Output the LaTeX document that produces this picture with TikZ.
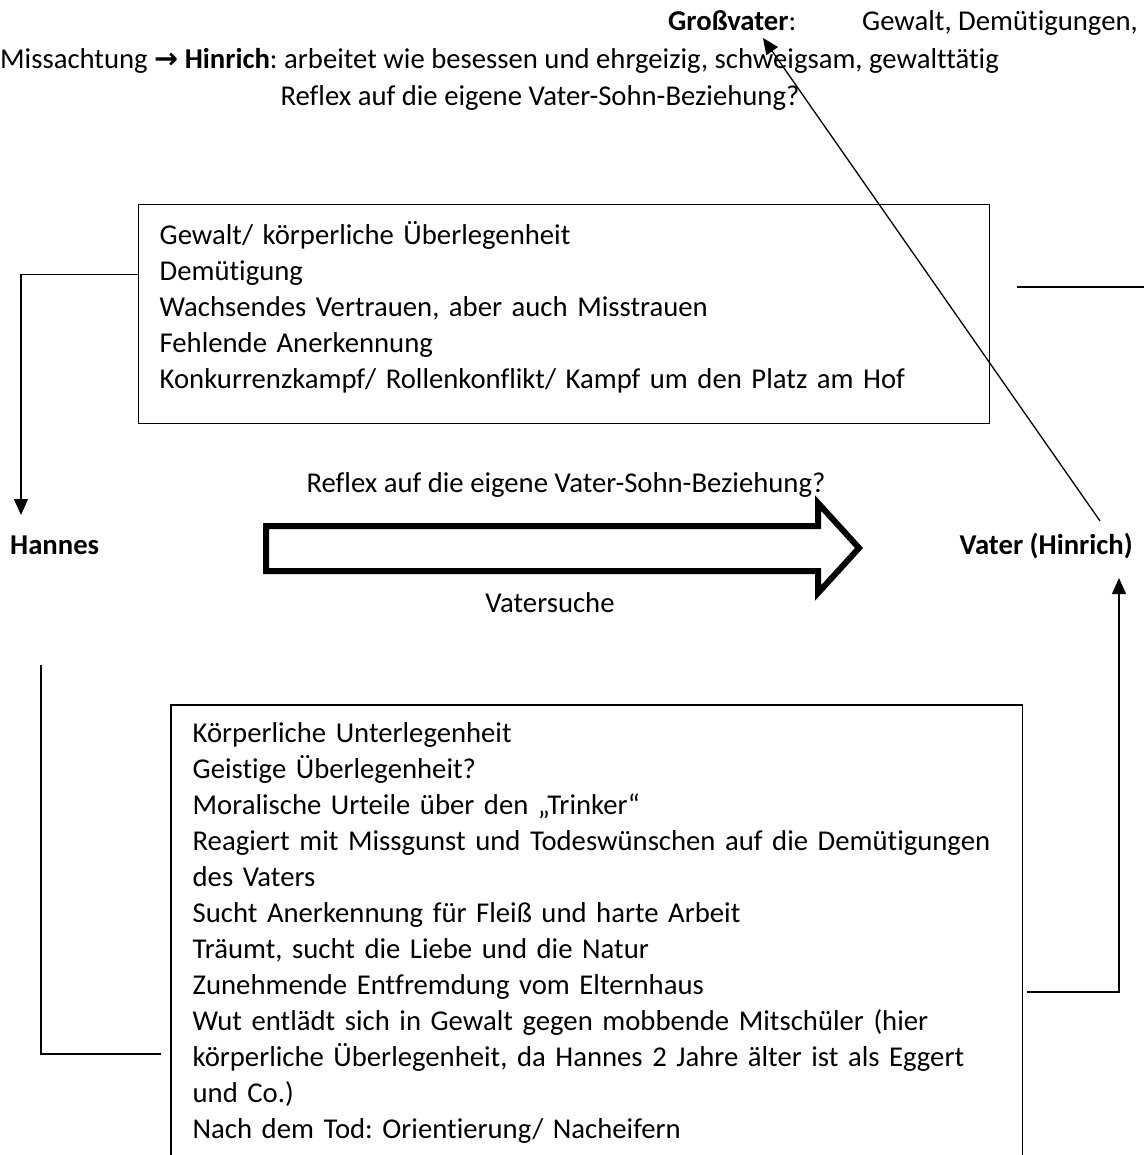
\documentclass[tikz,border=0pt]{standalone}
\usepackage{fontspec}
\setmainfont{Carlito}[Ligatures=NoCommon]
\newfontfamily\arrowfont{DejaVu Sans}
\usetikzlibrary{arrows.meta}
\usetikzlibrary{positioning}
\frenchspacing
\tikzset{
    box/.style={
           rectangle,
           draw=black, line width=1.3pt,
           align=left,
           anchor=north west,
           inner xsep=21pt,
           inner ysep=17pt,
           },
    txt/.style={
           inner sep=0pt,
           },
    link/.style={
           line width=1.3pt,
           },
}

\begin{document}
\begin{tikzpicture}[x=1pt,y=-1pt,>={Triangle[length=16pt,width=14pt]},
  font=\fontsize{28.7pt}{36pt}\selectfont]
 \useasboundingbox (0,0) rectangle (1144,1155);
 \node[txt, anchor=base west] (GV) at (668,31) {\textbf{Großvater}:};
 \node[txt, anchor=base east] (GVtxt) at (1138,31) {Gewalt, Demütigungen,};
 \node[txt, anchor=base west] (Hinrich) at (0,69)
 {Missachtung {\arrowfont\bfseries →} \textbf{Hinrich}: arbeitet wie besessen und ehrgeizig, schweigsam, gewalttätig};
 \node[txt, anchor=base] (Reflex1) at (540,106) {Reflex auf die eigene Vater-Sohn-Beziehung?};

 \node[box,
 text width=809pt,
 minimum height=217pt] (Konflikt) at (138,204)
 {%
  Gewalt/ körperliche Überlegenheit\\
  Demütigung\\
  Wachsendes Vertrauen, aber auch Misstrauen\\
  Fehlende Anerkennung\\
  Konkurrenzkampf/ Rollenkonflikt/ Kampf um den Platz am Hof\\[-18pt]\mbox{}
 };

 \node[txt, anchor=base] (Reflex2) at (566,492) {Reflex auf die eigene Vater-Sohn-Beziehung?};
 \node[txt, anchor=base west] (Hannes) at (10,554) {\textbf{Hannes}};
 \node[txt, anchor=base east] (Vater) at (1133,554) {\textbf{Vater (Hinrich)}};
 \node[txt, anchor=base] (Suche) at (550,612) {Vatersuche};

 \node[box,
 draw=none,
 text width=808pt] (Sohn) at (171,705)
 {%
  Körperliche Unterlegenheit\\
  Geistige Überlegenheit?\\
  Moralische Urteile über den „Trinker“\\
  Reagiert mit Missgunst und Todeswünschen auf die Demütigungen\\
  des Vaters\\
  Sucht Anerkennung für Fleiß und harte Arbeit\\
  Träumt, sucht die Liebe und die Natur\\
  Zunehmende Entfremdung vom Elternhaus\\
  Wut entlädt sich in Gewalt gegen mobbende Mitschüler (hier\\
  körperliche Überlegenheit, da Hannes 2 Jahre älter ist als Eggert\\
  und Co.)\\
  Nach dem Tod: Orientierung/ Nacheifern
 };
 \draw[link] (Sohn.north west) ++(0,450) |- (Sohn.north east) -- ++(0,450);

 % big arrow
 \draw[line width=6pt, miter limit=20]
  (266,526) -- (818,526) -- (818,503) -- (859,548) -- (818,593)
  -- (818,571) -- (266,571) -- cycle;

 \coordinate (HTip) at (21,515);
 \coordinate (GVtip) at (763,38);
 \coordinate (VGo) at (1100,521);
 \coordinate (VTip) at (1119,578);
 \coordinate (SohnR) at (1027,992);
 \coordinate (SohnL) at (161,1054);
 \coordinate (HTop) at (41,665);
 \coordinate (StubA) at (1017,287);
 \coordinate (StubB) at (1144,287);

 \draw[link,->] ([yshift=40pt]Konflikt.west) -| (HTip);
 \draw[link,->] (VGo) -- (GVtip);
 \draw[link,->] (SohnR) -| (VTip);
 \draw[link] (SohnL) -| (HTop);
 \draw[link] (StubA) -- (StubB);
\end{tikzpicture}
\end{document}
